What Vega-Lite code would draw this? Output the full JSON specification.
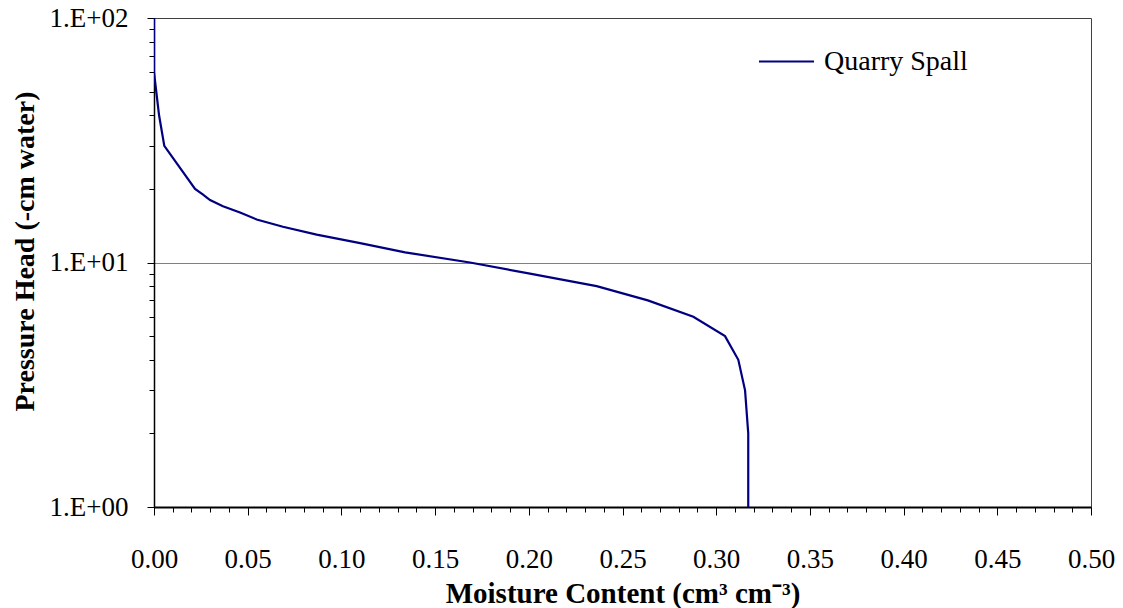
{
  "$schema": "https://vega.github.io/schema/vega-lite/v6.json",
  "width": 937,
  "height": 489,
  "autosize": {"type": "none"},
  "padding": {"left": 154, "top": 18, "right": 32, "bottom": 101},
  "background": "white",
  "config": {
    "view": {"stroke": "#404040", "strokeWidth": 1},
    "font": "Liberation Serif",
    "legend": {"labelFont": "Liberation Serif", "titleFont": "Liberation Serif"}
  },
  "data": {
    "values": [
      {"theta": 0.0, "h": 100, "series": "Quarry Spall"},
      {"theta": 0.0, "h": 60, "series": "Quarry Spall"},
      {"theta": 0.0027, "h": 40, "series": "Quarry Spall"},
      {"theta": 0.0055, "h": 30, "series": "Quarry Spall"},
      {"theta": 0.0219, "h": 20, "series": "Quarry Spall"},
      {"theta": 0.026, "h": 19, "series": "Quarry Spall"},
      {"theta": 0.0299, "h": 18, "series": "Quarry Spall"},
      {"theta": 0.0368, "h": 17, "series": "Quarry Spall"},
      {"theta": 0.0459, "h": 16, "series": "Quarry Spall"},
      {"theta": 0.0548, "h": 15, "series": "Quarry Spall"},
      {"theta": 0.0688, "h": 14, "series": "Quarry Spall"},
      {"theta": 0.0868, "h": 13, "series": "Quarry Spall"},
      {"theta": 0.110, "h": 12, "series": "Quarry Spall"},
      {"theta": 0.134, "h": 11, "series": "Quarry Spall"},
      {"theta": 0.1686, "h": 10, "series": "Quarry Spall"},
      {"theta": 0.2006, "h": 9, "series": "Quarry Spall"},
      {"theta": 0.2362, "h": 8, "series": "Quarry Spall"},
      {"theta": 0.2635, "h": 7, "series": "Quarry Spall"},
      {"theta": 0.2878, "h": 6, "series": "Quarry Spall"},
      {"theta": 0.3047, "h": 5, "series": "Quarry Spall"},
      {"theta": 0.3118, "h": 4, "series": "Quarry Spall"},
      {"theta": 0.3154, "h": 3, "series": "Quarry Spall"},
      {"theta": 0.3171, "h": 2, "series": "Quarry Spall"},
      {"theta": 0.3171, "h": 1, "series": "Quarry Spall"}
    ]
  },
  "mark": {"type": "line", "strokeWidth": 2.2, "clip": true},
  "encoding": {
    "x": {
      "field": "theta",
      "type": "quantitative",
      "scale": {"domain": [0, 0.5], "nice": false, "zero": false},
      "axis": {
        "title": "Moisture Content (cm³ cm⁻³)",
        "titleFont": "Liberation Serif",
        "titleFontSize": 29,
        "titleFontWeight": "bold",
        "titleColor": "black",
        "titleBaseline": "alphabetic",
        "titleY": 95,
        "values": [0,0.01,0.02,0.03,0.04,0.05,0.06,0.07,0.08,0.09,0.1,0.11,0.12,0.13,0.14,0.15,0.16,0.17,0.18,0.19,0.2,0.21,0.22,0.23,0.24,0.25,0.26,0.27,0.28,0.29,0.3,0.31,0.32,0.33,0.34,0.35,0.36,0.37,0.38,0.39,0.4,0.41,0.42,0.43,0.44,0.45,0.46,0.47,0.48,0.49,0.5],
        "labelExpr": "round(datum.value*100) % 5 == 0 ? format(datum.value, '.2f') : ''",
        "labelFont": "Liberation Serif",
        "labelFontSize": 27,
        "labelColor": "black",
        "labelPadding": 31,
        "labelOverlap": false,
        "labelFlush": false,
        "grid": false,
        "domainColor": "black",
        "domainWidth": 2,
        "tickColor": "black",
        "tickWidth": 1,
        "tickSize": {"condition": {"test": "round(datum.value*100) % 5 == 0", "value": 8}, "value": 5}
      }
    },
    "y": {
      "field": "h",
      "type": "quantitative",
      "scale": {"type": "log", "domain": [1, 100], "nice": false},
      "axis": {
        "title": "Pressure Head (-cm water)",
        "titleFont": "Liberation Serif",
        "titleFontSize": 28,
        "titleFontWeight": "bold",
        "titleColor": "black",
        "titleAngle": -90,
        "titleAlign": "center",
        "titleBaseline": "middle",
        "titleX": -129,
        "titleY": 233,
        "values": [1,2,3,4,5,6,7,8,9,10,20,30,40,50,60,70,80,90,100],
        "labelExpr": "datum.value == 1 ? '1.E+00' : datum.value == 10 ? '1.E+01' : datum.value == 100 ? '1.E+02' : ''",
        "labelFont": "Liberation Serif",
        "labelFontSize": 27,
        "labelColor": "black",
        "labelPadding": 19,
        "labelOverlap": false,
        "labelFlush": false,
        "grid": true,
        "gridColor": "#808080",
        "gridWidth": 1,
        "gridOpacity": {"condition": {"test": "datum.value == 10", "value": 1}, "value": 0},
        "domainColor": "black",
        "domainWidth": 1.5,
        "tickColor": "black",
        "tickWidth": 1,
        "tickSize": {"condition": {"test": "datum.value == 1 || datum.value == 10 || datum.value == 100", "value": 7}, "value": 5}
      }
    },
    "color": {
      "field": "series",
      "type": "nominal",
      "scale": {"range": ["#000080"]},
      "legend": {
        "title": null,
        "orient": "none",
        "legendX": 604,
        "legendY": 15,
        "padding": 0,
        "symbolType": "stroke",
        "symbolSize": 3025,
        "symbolStrokeWidth": 2,
        "labelFont": "Liberation Serif",
        "labelFontSize": 28,
        "labelColor": "black",
        "labelOffset": 9
      }
    },
    "order": {"field": "h", "type": "quantitative", "sort": "descending"}
  }
}
